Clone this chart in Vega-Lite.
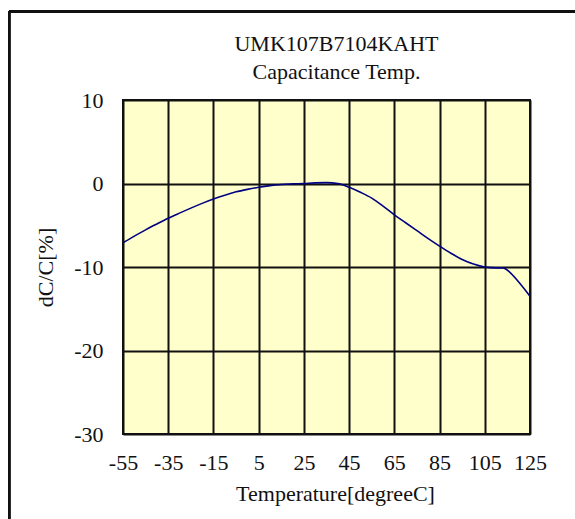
{
  "$schema": "https://vega.github.io/schema/vega-lite/v6.json",
  "width": 407,
  "height": 334,
  "autosize": {"type": "none"},
  "padding": {"left": 123, "top": 100, "right": 45, "bottom": 85},
  "background": "white",
  "title": {
    "text": ["UMK107B7104KAHT", "Capacitance Temp."],
    "font": "Liberation Serif",
    "fontSize": 22,
    "fontWeight": "normal",
    "color": "#111111",
    "lineHeight": 28,
    "anchor": "middle",
    "dx": 10,
    "offset": -74
  },
  "config": {
    "view": {"fill": "#FFFFCC", "stroke": "#111111", "strokeWidth": 2},
    "axis": {
      "labelFont": "Liberation Serif",
      "labelFontSize": 22,
      "labelColor": "#111111",
      "labelOverlap": false,
      "labelBound": false,
      "labelFlush": false,
      "labelExpr": "replace(datum.label, '\u2212', '-')",
      "titleFont": "Liberation Serif",
      "titleFontSize": 22,
      "titleFontWeight": "normal",
      "titleColor": "#111111",
      "domain": false,
      "ticks": false,
      "grid": true,
      "gridColor": "#111111",
      "gridWidth": 2,
      "gridOpacity": 1
    }
  },
  "data": {
    "values": [
      {"temp": -55, "dc": -7.1},
      {"temp": -50, "dc": -6.3},
      {"temp": -45, "dc": -5.55},
      {"temp": -40, "dc": -4.85},
      {"temp": -35, "dc": -4.17},
      {"temp": -30, "dc": -3.55},
      {"temp": -25, "dc": -2.95},
      {"temp": -20, "dc": -2.38},
      {"temp": -15, "dc": -1.86},
      {"temp": -10, "dc": -1.4},
      {"temp": -5, "dc": -1.0},
      {"temp": 0, "dc": -0.7},
      {"temp": 5, "dc": -0.45},
      {"temp": 10, "dc": -0.25},
      {"temp": 15, "dc": -0.12},
      {"temp": 20, "dc": -0.05},
      {"temp": 25, "dc": 0.0},
      {"temp": 30, "dc": 0.08},
      {"temp": 35, "dc": 0.1},
      {"temp": 40, "dc": 0.0},
      {"temp": 45, "dc": -0.45},
      {"temp": 50, "dc": -1.05},
      {"temp": 55, "dc": -1.75},
      {"temp": 60, "dc": -2.7},
      {"temp": 65, "dc": -3.75},
      {"temp": 70, "dc": -4.7},
      {"temp": 75, "dc": -5.65},
      {"temp": 80, "dc": -6.6},
      {"temp": 85, "dc": -7.5},
      {"temp": 90, "dc": -8.35},
      {"temp": 95, "dc": -9.1},
      {"temp": 100, "dc": -9.65},
      {"temp": 105, "dc": -10.0},
      {"temp": 110, "dc": -10.1},
      {"temp": 113, "dc": -10.1},
      {"temp": 116, "dc": -10.6},
      {"temp": 120, "dc": -11.8},
      {"temp": 125, "dc": -13.5}
    ]
  },
  "layer": [
    {
      "mark": {"type": "line", "color": "#000080", "strokeWidth": 1.6, "interpolate": "monotone", "clip": true},
      "encoding": {
        "x": {
          "field": "temp",
          "type": "quantitative",
          "scale": {"domain": [-55, 125], "nice": false, "zero": false},
          "axis": {
            "values": [-55, -35, -15, 5, 25, 45, 65, 85, 105, 125],
            "title": "Temperature[degreeC]",
            "labelPadding": 18,
            "titlePadding": 10,
            "titleX": 212
          }
        },
        "y": {
          "field": "dc",
          "type": "quantitative",
          "scale": {"domain": [-30, 10], "nice": false, "zero": false},
          "axis": {
            "values": [-30, -20, -10, 0, 10],
            "title": "dC/C[%]",
            "labelPadding": 20,
            "titlePadding": 16
          }
        }
      }
    },
    {
      "mark": {"type": "rule", "color": "#111111", "strokeWidth": 2},
      "encoding": {
        "x": {"datum": -105.4, "type": "quantitative"},
        "y": {"datum": 20.6, "type": "quantitative"},
        "y2": {"datum": -45}
      }
    },
    {
      "mark": {"type": "rule", "color": "#111111", "strokeWidth": 2},
      "encoding": {
        "x": {"datum": -105.4, "type": "quantitative"},
        "x2": {"datum": 180},
        "y": {"datum": 20.6, "type": "quantitative"}
      }
    }
  ]
}
